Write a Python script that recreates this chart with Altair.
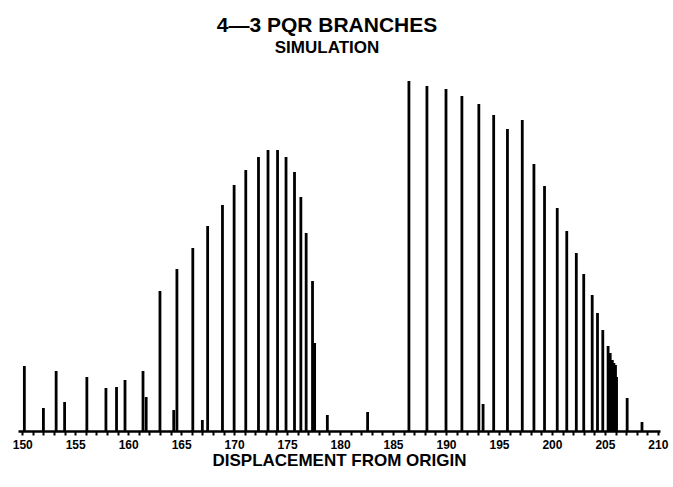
import altair as alt
import pandas as pd

# Line positions (displacement from origin) and relative intensities
displacement = [
    150.2, 152.0, 153.2, 154.0, 156.1, 157.9, 158.9, 159.7, 161.4, 161.7,
    163.0, 164.3, 164.6, 166.1, 167.0, 167.5, 168.9, 170.0, 171.1, 172.3,
    173.2, 174.1, 174.9, 175.7, 176.3, 176.8, 177.4, 177.6, 178.8, 182.6,
    186.5, 188.2, 190.0, 191.5, 193.1, 193.5, 194.5, 195.8, 197.2, 198.3,
    199.3, 200.5, 201.4, 202.3, 203.0, 203.8, 204.3, 204.8, 205.3, 205.5,
    205.7, 205.85, 206.0, 206.1, 207.1, 208.5,
]
intensity = [
    65, 23, 60, 29, 54, 43, 44, 51, 60, 34,
    140, 21, 162, 183, 11, 205, 226, 246, 261, 274,
    281, 281, 274, 259, 234, 198, 150, 88, 16, 19,
    350, 345, 342, 335, 327, 27, 316, 302, 311, 267,
    245, 223, 200, 178, 157, 136, 118, 101, 85, 78,
    71, 68, 66, 54, 33, 9,
]
tick_values = list(range(150, 211))

df = pd.DataFrame({"displacement": displacement, "intensity": intensity})

chart = (
    alt.Chart(df)
    .mark_rule(color="black", strokeWidth=2.8)
    .encode(
        x=alt.X(
            "displacement:Q",
            scale=alt.Scale(domain=[149.6, 210.2], nice=False, zero=False),
            axis=alt.Axis(
                values=tick_values,
                labelExpr="datum.value % 5 == 0 ? datum.label : ''",
                labelOverlap=False,
                labelFlush=False,
                grid=False,
                domainColor="black",
                domainWidth=2.5,
                tickColor="black",
                tickWidth=2,
                tickSize=4,
                labelFont="Liberation Sans",
                labelFontWeight="bold",
                labelFontSize=12,
                labelColor="black",
                labelPadding=4,
                title="DISPLACEMENT FROM ORIGIN",
                titleFont="Liberation Sans",
                titleFontWeight="bold",
                titleFontSize=17,
                titleColor="black",
                titlePadding=2,
            ),
        ),
        y=alt.Y("intensity:Q", scale=alt.Scale(domain=[0, 361], nice=False), axis=None),
        y2=alt.datum(0),
    )
    .properties(
        width=642,
        height=361,
        padding={"left": 18, "top": 70, "right": 13, "bottom": 56},
        autosize=alt.AutoSizeParams(type="none"),
        title=alt.TitleParams(
            text="4\u20143 PQR BRANCHES",
            subtitle="SIMULATION",
            anchor="middle",
            dx=-12,
            font="Liberation Sans",
            fontSize=21,
            fontWeight="bold",
            color="black",
            subtitleFont="Liberation Sans",
            subtitleFontSize=17,
            subtitleFontWeight="bold",
            subtitleColor="black",
            subtitlePadding=4,
            offset=14,
        ),
    )
    .configure_view(stroke=None)
)

chart.save("out.html", embed_options={"renderer": "svg", "actions": False})
